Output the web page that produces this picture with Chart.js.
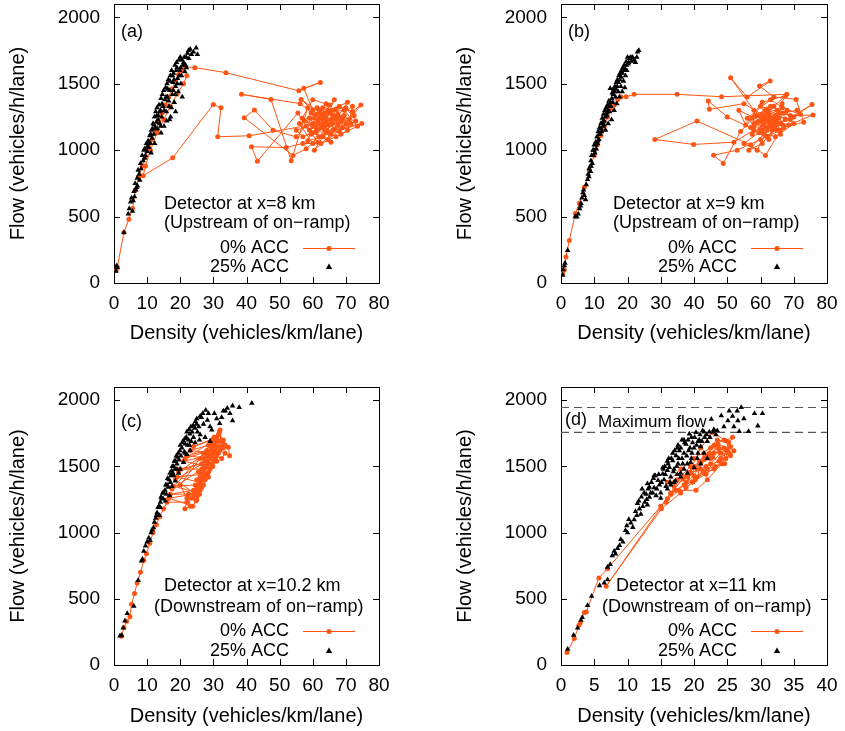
<!DOCTYPE html>
<html>
<head>
<meta charset="utf-8">
<script src="https://cdn.jsdelivr.net/npm/chart.js@4/dist/chart.umd.min.js"></script>
<style>
  body { margin: 0; background: #fff; width: 845px; height: 731px; position: relative; overflow: hidden; }
  canvas { position: absolute; }
</style>
</head>
<body>
<canvas id="pa" width="398" height="348" style="left:0;top:0"></canvas>
<canvas id="pb" width="398" height="348" style="left:447px;top:0"></canvas>
<canvas id="pc" width="398" height="348" style="left:0;top:383px"></canvas>
<canvas id="pd" width="398" height="348" style="left:447px;top:383px"></canvas>
<script>
// ---- data (density veh/km/lane, flow veh/h/lane) ----
const flowTicks = [0, 500, 1000, 1500, 2000];
const densityTicks80 = [0, 10, 20, 30, 40, 50, 60, 70, 80];
const densityTicks40 = [0, 5, 10, 15, 20, 25, 30, 35, 40];
const seriesNames = ['0% ACC', '25% ACC'];
const maxFlowLevels = [1945, 1757];

// (a) detector at x=8 km
const a0 = [[0.6,95],[1,120],[3,380],[4.5,480],[5.6,560],[6.5,700],[7.5,800],[8.5,880],[9.5,950],[10.5,1020],[11.5,1080],[12.5,1150],[13.5,1210],[14.5,1280],[15.5,1340],[16.5,1400],[17.5,1460],[18.5,1520],[19.5,1570],[20.5,1600],[21.4,1628],[24.4,1621],[33.8,1583],[55.8,1447],[62.3,1510],[57.3,1465],[60,1300],[56.5,1382],[64,1250],[68,1330],[72,1290],[74.5,1339],[70,1200],[66,1150],[74.8,1201],[62,1100],[58,1180],[65,1280],[60,1050],[56,1200],[70.5,1360],[67,1230],[61,1140],[63,1320],[59,1240],[64.5,1080],[69,1170],[72.5,1260],[57,1100],[55,1150],[61.5,1210],[66.5,1380],[63,1170],[58.5,1320],[53.5,920],[47.4,1382],[38.5,1420],[56.2,1350],[62,1240],[65.5,1120],[60.5,1000],[67.5,1270],[71,1230],[64,1190],[59.5,1120],[55.5,1280],[43.3,917],[41.5,1025],[52,1020],[57,1050],[62.5,1050],[68.5,1120],[73.5,1180],[69.5,1300],[63.5,1280],[60,1180],[66,1200],[58,1010],[54,960],[39.3,1244],[42.4,1302],[48,1150],[55,1100],[61,1270],[65,1340],[60,1380],[56.8,1240],[63.7,1140],[61.3,1320],[66,1260],[68.5,1210],[64.5,1300],[62.5,1180],[67,1100],[70.5,1150],[72,1330],[68,1250],[63.5,1220],[59,1150],[61.5,1060],[65.5,1230],[69.5,1260],[71.5,1200],[66.5,1160],[62,1300],[60.5,1240],[64,1350],[67.5,1190],[63,1100],[58.5,1070],[60,1200],[65,1190],[68,1140],[73,1220],[70,1320],[66,1300],[62.5,1270],[59.5,1280],[57.5,1220],[61,1170],[64.5,1140],[67,1310],[69,1230],[63,1240],[65.5,1060],[60,1130],[62,1200],[66.5,1250],[64,1210],[40.8,1108],[31.3,1101],[32.3,1319],[30,1344],[17.7,942],[8.8,807],[9.5,880],[11,1000],[13,1130],[15,1230],[17,1330],[19,1420],[21,1500],[22,1560]];
const a25 = [[0.6,90],[0.8,130],[1,115],[3,380],[4.3,520],[4.6,560],[5,610],[5.3,640],[5.6,540],[5.8,620],[6,690],[6.2,650],[6.4,750],[6.6,700],[6.8,720],[7,790],[7.1,730],[7.3,850],[7.6,820],[7.8,774],[8,900],[8.2,860],[8.5,960],[8.8,920],[9,1000],[9.2,940],[9.3,1010],[9.5,960],[9.8,1050],[10,990],[10.1,1030],[10.3,1070],[10.5,1020],[10.7,1060],[10.8,1110],[11,1050],[11.1,1120],[11.3,1150],[11.5,1090],[11.6,1160],[11.8,1200],[12,1120],[12.1,1190],[12.2,1250],[12.3,1050],[12.4,1170],[12.6,1290],[12.8,1210],[12.9,1260],[13,1320],[13.1,1160],[13.3,1230],[13.4,1260],[13.6,1340],[13.8,1200],[13.9,1290],[14,1300],[14.1,1180],[14.2,1390],[14.4,1250],[14.5,1350],[14.6,1420],[14.8,1330],[15,1450],[15.1,1180],[15.2,1300],[15.4,1380],[15.6,1470],[15.7,1400],[15.8,1290],[15.9,1220],[16,1500],[16.1,1400],[16.2,1460],[16.4,1530],[16.5,1370],[16.6,1330],[16.8,1450],[16.9,1520],[17,1560],[17.1,1250],[17.3,1320],[17.4,1600],[17.6,1420],[17.7,1560],[17.8,1510],[17.9,1450],[18,1580],[18.1,1530],[18.2,1360],[18.4,1640],[18.5,1420],[18.6,1480],[18.8,1600],[18.9,1660],[19,1620],[19.1,1500],[19.2,1540],[19.4,1440],[19.6,1680],[19.7,1560],[19.8,1600],[20,1700],[20.1,1620],[20.2,1500],[20.4,1560],[20.5,1680],[20.6,1400],[20.8,1640],[21,1660],[21.2,1700],[21.4,1590],[21.8,1700],[21.9,1620],[22.2,1730],[22.5,1750],[22.6,1690],[23,1760],[23.4,1720],[24,1740],[24.8,1770],[25.2,1720],[21.6,1640],[11.2,980],[14.2,1130],[16.8,1230],[18.6,1290]];

// (b) detector at x=9 km
const b0 = [[0.5,70],[1,100],[1.5,196],[2.5,320],[4.3,523],[5.5,600],[7,720],[8.5,850],[10,960],[11,1040],[12,1110],[13,1180],[14,1250],[15,1300],[16,1340],[17,1380],[18,1400],[19.6,1402],[22,1420],[34.9,1420],[48.3,1402],[67.9,1420],[62,1280],[58,1200],[65,1150],[60,1330],[70,1250],[75.5,1344],[66,1200],[62,1100],[56,1240],[63,1380],[68,1300],[61,1200],[57.5,1120],[64,1240],[59,1000],[55,1050],[60.5,1150],[66.5,1320],[72,1270],[63.5,1180],[58,1300],[51,1545],[56,1400],[62.9,1520],[59.7,1483],[64,1400],[70.7,1382],[73,1210],[67,1170],[61,1260],[55,1350],[44.6,1307],[44.3,1370],[50,1250],[57,1170],[62.5,1230],[68.5,1190],[75.8,1264],[69,1260],[63,1330],[58.5,1260],[54,1140],[48.8,900],[45.9,962],[53,1000],[60,1080],[66,1150],[61.5,960],[57,1040],[40.9,1219],[28.2,1080],[39.9,1043],[52,1060],[58,1150],[64.5,1100],[70,1200],[65,1300],[59,1210],[62,1150],[67.5,1410],[60.5,1360],[55.5,1190],[53.5,1300],[60,1220],[63,1250],[66,1280],[61.5,1170],[64.5,1190],[67.5,1230],[62,1310],[59.5,1130],[62.5,1080],[65.5,1240],[63,1210],[60.5,1270],[58,1180],[64,1330],[67,1180],[61,1230],[63.5,1150],[66.5,1350],[69,1230],[62.5,1280],[60,1160],[57.5,1240],[64.5,1260],[66,1120],[61.5,1300],[63,1190],[59,1260],[65,1210],[62,1240],[64,1160],[60.5,1050],[56.5,1000],[61,1120],[67,1280],[71,1300]];
const b25 = [[0.5,60],[0.7,100],[1,130],[1.2,150],[2,246],[4.3,500],[4.8,497],[5.2,520],[5.6,560],[5.9,580],[6,600],[6.3,640],[6.6,680],[6.8,700],[7,660],[7.4,628],[7.6,740],[8,780],[8.2,820],[8.4,800],[8.5,860],[8.8,880],[8.9,840],[9,920],[9.1,880],[9.2,960],[9.4,900],[9.6,1000],[9.8,960],[9.9,1000],[10,1040],[10.2,980],[10.4,1060],[10.5,1040],[10.6,1010],[10.8,1100],[11,1050],[11.1,1070],[11.2,1140],[11.4,1080],[11.5,1120],[11.6,1170],[11.8,1120],[12,1200],[12.1,1160],[12.2,1140],[12.4,1240],[12.5,1210],[12.6,1180],[12.8,1270],[12.9,1190],[13,1220],[13.2,1300],[13.3,1250],[13.4,1150],[13.6,1320],[13.7,1280],[13.8,1260],[14,1340],[14.1,1300],[14.2,1200],[14.4,1370],[14.5,1330],[14.6,1290],[14.8,1465],[14.9,1360],[15,1330],[15.2,1230],[15.3,1390],[15.4,1430],[15.6,1360],[15.7,1420],[15.8,1460],[16,1300],[16.1,1440],[16.2,1480],[16.4,1400],[16.5,1460],[16.6,1510],[16.8,1350],[16.9,1480],[17,1530],[17.2,1440],[17.3,1510],[17.4,1560],[17.6,1400],[17.7,1530],[17.8,1580],[18,1480],[18.1,1550],[18.2,1600],[18.4,1440],[18.5,1580],[18.6,1620],[18.8,1520],[18.9,1600],[19,1640],[19.2,1470],[19.3,1610],[19.4,1560],[19.6,1666],[19.7,1640],[19.8,1600],[20,1700],[20.2,1650],[20.4,1660],[20.6,1690],[21,1700],[21.2,1670],[21.5,1700],[22,1680],[22.4,1660],[22.8,1700],[23,1740],[23.4,1750]];

// (c) detector at x=10.2 km
const c0 = [[2.3,218],[3,284],[3.8,330],[4.8,364],[5.3,459],[6.2,540],[7,620],[8,700],[9,790],[9.8,841],[10.8,920],[11.8,1000],[12.8,1060],[13.8,1120],[15,1180],[16,1230],[22,1230],[21.4,1180],[23,1200],[22.5,1290],[17,1290],[24,1320],[23.5,1260],[25,1250],[24.5,1360],[18,1350],[25.5,1300],[25,1400],[26,1380],[19,1420],[26.5,1440],[25.5,1460],[27,1480],[20,1480],[26.5,1520],[27.5,1540],[28,1500],[21,1540],[28.5,1580],[27,1600],[28,1620],[22,1580],[29,1560],[29.5,1640],[30,1600],[23,1620],[28.5,1660],[30.5,1680],[29.5,1700],[24,1650],[31,1720],[32,1775],[32.2,1694],[31.5,1650],[30.5,1620],[33,1640],[34.5,1644],[34.9,1581],[33.5,1600],[32.5,1560],[31,1580],[30,1540],[29,1480],[28,1440],[27.5,1400],[26.5,1340],[25.8,1290],[24.8,1240],[23.8,1200],[16.5,1260],[24,1290],[26,1320],[27,1360],[28.5,1420],[29.5,1520],[30.5,1560],[31.5,1600],[32.5,1650],[33,1700],[31.5,1740],[30,1660],[27.5,1500],[26,1420],[25,1340],[22,1260],[20,1360],[26,1560],[28,1580],[29,1600],[24.5,1300],[25.5,1350],[26.5,1400],[27.5,1450],[28.5,1520],[29.5,1580],[30.5,1640],[31.5,1690],[30.8,1700],[29.8,1620],[28.8,1560],[27.8,1500],[26.8,1440],[25.8,1380],[24.8,1320],[23.8,1270],[27.2,1560],[28.2,1600],[29.2,1660],[30.2,1720],[31.8,1760],[32.8,1680],[33.6,1660],[32,1620],[31,1540],[29.8,1500],[28.6,1460],[27.4,1420],[26.2,1360],[25.2,1280],[18.5,1400],[28,1540],[19.5,1460],[29,1620],[21.5,1560],[30.5,1700],[17.5,1330],[26.5,1480]];
const c25 = [[1.8,220],[2.3,226],[2.8,280],[3.3,334],[4,390],[6,444],[7.3,640],[8.3,786],[8.6,800],[9,860],[9.5,900],[10,930],[10.5,960],[10.9,941],[11.2,1000],[11.5,1020],[11.9,1037],[12.2,1080],[12.6,1110],[12.8,1130],[13,1150],[13.3,1190],[13.7,1130],[13.6,1200],[14,1230],[14,1190],[14.2,1270],[14.4,1260],[14.7,1300],[14.9,1255],[15,1300],[15.4,1320],[15.5,1240],[15.6,1360],[15.8,1290],[16,1360],[16.2,1410],[16.4,1343],[16.6,1400],[16.9,1450],[17,1380],[17.2,1430],[17.4,1468],[17.6,1500],[17.8,1450],[18,1500],[18,1430],[18.2,1540],[18.4,1480],[18.6,1540],[18.8,1580],[19,1520],[19,1480],[19.2,1570],[19.4,1600],[19.6,1550],[19.9,1619],[20,1660],[20.2,1580],[20.5,1640],[20.7,1680],[20.9,1694],[21.2,1610],[21.4,1710],[21.5,1670],[21.5,1600],[21.8,1720],[22,1760],[22.2,1660],[22.5,1700],[22.7,1780],[22.8,1660],[22.9,1745],[23.2,1800],[23.3,1690],[23.6,1760],[23.9,1810],[24,1720],[24.4,1790],[24.6,1840],[24.9,1820],[25,1860],[25.2,1760],[25.6,1800],[26,1740],[26,1880],[26.4,1870],[26.8,1900],[27,1820],[27.7,1925],[28.2,1850],[28.5,1900],[29,1800],[29.5,1775],[30.3,1900],[31,1860],[31.9,1825],[32.5,1870],[33,1920],[33.6,1920],[34.2,1940],[35,1900],[35.8,1958],[35.8,1845],[37.8,1945],[41.6,1978],[18.5,1390],[17.5,1350],[16.8,1280],[19.5,1450],[21,1530],[22,1590],[23,1620],[24.5,1680],[25.8,1700],[27.5,1720],[29,1690],[20,1480]];

// (d) detector at x=11 km
const d0 = [[0.9,95],[2,200],[2.7,301],[2.9,319],[3.5,397],[3.8,400],[5.7,658],[7,728],[15,1200],[16,1255],[17.8,1318],[20.3,1320],[22,1400],[24.2,1521],[22,1480],[18.5,1360],[16.5,1300],[6.8,595],[15.1,1180],[18,1300],[21.5,1460],[24,1560],[25.8,1720],[24.8,1694],[22.8,1757],[21,1640],[19.3,1455],[18.3,1405],[20,1500],[22.5,1560],[23.6,1669],[26,1619],[25.5,1580],[23.8,1610],[22,1580],[20.5,1480],[19,1420],[17,1350],[16.5,1290],[18.5,1420],[21,1530],[23,1600],[24.5,1640],[22.5,1640],[20,1560],[18,1480],[16,1380],[17.5,1400],[19.5,1500],[22.8,1569],[24.2,1521],[25.2,1680],[23.5,1700],[21.5,1600],[20.5,1420],[23,1480],[24.8,1560],[25,1620],[23.8,1540],[21.8,1500],[19.8,1380],[18.8,1340],[19.5,1450],[21,1480],[22.5,1520],[24,1600],[25.5,1650],[24.5,1700],[23,1660],[21.5,1560],[20,1430],[18.8,1380],[20.8,1540],[22.3,1600],[23.7,1640],[25.3,1600],[24.6,1520],[23.2,1500],[21.8,1440],[20.2,1400],[17.2,1320],[15.8,1230]];
const d25 = [[1,120],[1.9,226],[2.5,280],[3,339],[3.2,360],[4,450],[4.6,520],[5.8,600],[6.5,620],[7,645],[7,740],[7.4,760],[7.7,826],[8,860],[8.2,840],[8.5,880],[8.8,904],[9,949],[9.3,930],[9.7,1016],[9.9,1053],[10,1000],[10.2,1100],[10.5,1073],[10.8,1040],[11,1098],[11.2,1160],[11.4,1130],[11.5,1220],[11.7,1240],[11.8,1180],[12,1140],[12.1,1270],[12.2,1330],[12.3,1198],[12.5,1300],[12.6,1230],[12.8,1290],[12.9,1250],[13,1210],[13,1370],[13.1,1330],[13.3,1268],[13.3,1343],[13.5,1300],[13.6,1380],[13.8,1300],[13.9,1410],[14,1340],[14,1430],[14.2,1430],[14.3,1280],[14.4,1330],[14.6,1394],[14.7,1440],[14.8,1360],[15,1300],[15,1260],[15.1,1380],[15.3,1443],[15.3,1490],[15.4,1480],[15.5,1400],[15.6,1500],[15.7,1440],[15.8,1350],[16,1470],[16,1540],[16,1330],[16.1,1520],[16.2,1560],[16.3,1493],[16.4,1380],[16.5,1420],[16.5,1360],[16.6,1560],[16.8,1544],[16.8,1600],[16.9,1460],[17,1480],[17,1380],[17.1,1620],[17.2,1390],[17.3,1581],[17.4,1500],[17.5,1640],[17.5,1440],[17.6,1520],[17.6,1660],[17.7,1560],[17.8,1619],[18,1450],[18,1420],[18,1640],[18.2,1560],[18.2,1700],[18.3,1520],[18.5,1600],[18.5,1480],[18.5,1700],[18.6,1680],[18.8,1669],[18.9,1580],[19,1520],[19,1450],[19.1,1700],[19.2,1620],[19.3,1745],[19.4,1640],[19.5,1530],[19.6,1560],[19.6,1720],[19.7,1600],[19.8,1680],[20,1640],[20,1490],[20.1,1720],[20.3,1757],[20.4,1660],[20.5,1560],[20.6,1600],[20.6,1690],[20.8,1700],[20.9,1740],[21,1650],[21,1520],[21.2,1690],[21.3,1770],[21.5,1760],[21.5,1600],[21.6,1720],[21.9,1740],[22,1690],[22,1560],[22.3,1760],[22.4,1720],[22.6,1857],[22.9,1760],[23,1780],[23.3,1740],[23.5,1770],[24.1,1883],[24.5,1800],[25.1,1845],[25.3,1920],[25.8,1880],[26,1800],[26.5,1920],[26.6,1845],[26.8,1765],[27.1,1945],[27.5,1860],[28.2,1765],[29.1,1900],[29.6,1807],[30.3,1900]];

// ---- styling ----
const FONT = '"Liberation Sans", Arial, Helvetica, sans-serif';
const ORANGE = 'rgb(255,85,20)';
const pts = arr => arr.map(p => ({x: p[0], y: p[1]}));

// border with inward ticks on all four sides, plus panel notes and key
const frame = {
  id: 'frame',
  beforeDatasetsDraw(chart) {
    const {ctx, chartArea: a, scales: {x, y}} = chart;
    ctx.save();
    ctx.strokeStyle = '#000';
    ctx.lineWidth = 1;
    ctx.beginPath();
    x.ticks.forEach(t => {
      const p = Math.round(x.getPixelForValue(t.value)) + 0.5;
      ctx.moveTo(p, a.bottom); ctx.lineTo(p, a.bottom - 6);
      ctx.moveTo(p, a.top); ctx.lineTo(p, a.top + 6);
    });
    y.ticks.forEach(t => {
      const p = Math.round(y.getPixelForValue(t.value)) + 0.5;
      ctx.moveTo(a.left, p); ctx.lineTo(a.left + 6, p);
      ctx.moveTo(a.right, p); ctx.lineTo(a.right - 6, p);
    });
    ctx.stroke();
    ctx.strokeRect(Math.round(a.left) + 0.5, Math.round(a.top) + 0.5,
      Math.round(a.right - a.left), Math.round(a.bottom - a.top));
    ctx.restore();
  },
  afterDatasetsDraw(chart, args, o) {
    const ctx = chart.ctx;
    ctx.save();
    ctx.fillStyle = '#000';
    ctx.textBaseline = 'middle';
    ctx.textAlign = 'left';
    ctx.font = '18px ' + FONT;
    ctx.fillText(o.tag[0], o.tag[1], o.tag[2]);
    if (o.extra) {
      ctx.font = '17px ' + FONT;
      ctx.fillText(o.extra[0], o.extra[1], o.extra[2]);
    }
    ctx.font = '18px ' + FONT;
    o.title.forEach(l => ctx.fillText(l[0], l[1], l[2]));
    ctx.textAlign = 'right';
    ctx.fillText(seriesNames[0], o.keyRight, o.rows[0]);
    ctx.fillText(seriesNames[1], o.keyRight, o.rows[1]);
    // key samples
    const mid = (o.sample[0] + o.sample[1]) / 2;
    ctx.strokeStyle = ORANGE;
    ctx.lineWidth = 1;
    ctx.beginPath();
    ctx.moveTo(o.sample[0], o.rows[0] + 0.5);
    ctx.lineTo(o.sample[1], o.rows[0] + 0.5);
    ctx.stroke();
    ctx.fillStyle = ORANGE;
    ctx.beginPath();
    ctx.arc(mid, o.rows[0] + 0.5, 2.5, 0, Math.PI * 2);
    ctx.fill();
    ctx.fillStyle = '#000';
    ctx.beginPath();
    ctx.moveTo(mid, o.rows[1] - 3.5);
    ctx.lineTo(mid + 3.2, o.rows[1] + 2);
    ctx.lineTo(mid - 3.2, o.rows[1] + 2);
    ctx.closePath();
    ctx.fill();
    ctx.restore();
  }
};

function panel(id, s0, s25, cfg) {
  const datasets = [
    {label: seriesNames[1], data: pts(s25), order: 0, showLine: false,
     pointStyle: 'triangle', pointRadius: 3.2, pointBackgroundColor: '#000', pointBorderWidth: 0},
    {label: seriesNames[0], data: pts(s0), order: 1, showLine: true,
     borderColor: ORANGE, borderWidth: 1, pointRadius: 2.5, pointBackgroundColor: ORANGE, pointBorderWidth: 0}
  ];
  if (cfg.maxFlow) {
    maxFlowLevels.forEach(v => datasets.push({
      label: 'Maximum flow', data: [{x: 0, y: v}, {x: cfg.xMax, y: v}], order: 2, showLine: true,
      borderColor: '#555', borderWidth: 1.2, borderDash: [8, 5], pointRadius: 0
    }));
  }
  new Chart(document.getElementById(id), {
    type: 'scatter',
    data: {datasets},
    options: {
      responsive: false,
      animation: false,
      events: [],
      layout: {padding: {top: 4, right: cfg.padRight, bottom: 0, left: 0}},
      plugins: {legend: {display: false}, tooltip: {enabled: false}, frame: cfg.notes},
      scales: {
        x: {
          type: 'linear', min: 0, max: cfg.xMax,
          afterBuildTicks: s => { s.ticks = cfg.xTicks.map(v => ({value: v})); },
          afterFit: s => { s.height = cfg.xH; s.paddingLeft = 0; s.paddingRight = 0; },
          grid: {display: false, drawTicks: false}, border: {display: false},
          ticks: {padding: 9, color: '#000', font: {size: 19, family: FONT}, maxRotation: 0, autoSkip: false,
                  callback: v => String(v)},
          title: {display: true, text: 'Density (vehicles/km/lane)', color: '#000',
                  font: {size: 20, family: FONT}, padding: {top: 0, bottom: 3}}
        },
        y: {
          type: 'linear', min: 0, max: 2100,
          afterBuildTicks: s => { s.ticks = flowTicks.map(v => ({value: v})); },
          afterFit: s => { s.width = 114; s.paddingTop = 0; s.paddingBottom = 0; },
          grid: {display: false, drawTicks: false}, border: {display: false},
          ticks: {padding: 14, color: '#000', font: {size: 19, family: FONT}, autoSkip: false,
                  callback: v => String(v)},
          title: {display: true, text: 'Flow (vehicles/h/lane)', color: '#000',
                  font: {size: 20, family: FONT}, padding: {top: 6, bottom: 0}}
        }
      }
    },
    plugins: [frame]
  });
}

panel('pa', a0, a25, {
  xMax: 80, xTicks: densityTicks80, xH: 65, padRight: 19,
  notes: {tag: ['(a)', 121, 32],
          title: [['Detector at x=8 km', 164, 204], ['(Upstream of on\u2212ramp)', 164, 223]],
          keyRight: 289, rows: [248, 267], sample: [303, 355]}
});
panel('pb', b0, b25, {
  xMax: 80, xTicks: densityTicks80, xH: 65, padRight: 18,
  notes: {tag: ['(b)', 121, 32],
          title: [['Detector at x=9 km', 166, 204], ['(Upstream of on\u2212ramp)', 166, 223]],
          keyRight: 290, rows: [248, 267], sample: [304, 356]}
});
panel('pc', c0, c25, {
  xMax: 80, xTicks: densityTicks80, xH: 66, padRight: 19,
  notes: {tag: ['(c)', 121, 39],
          title: [['Detector at x=10.2 km', 164, 203], ['(Downstream of on\u2212ramp)', 154, 224]],
          keyRight: 289, rows: [248, 268], sample: [303, 355]}
});
panel('pd', d0, d25, {
  xMax: 40, xTicks: densityTicks40, xH: 66, padRight: 18, maxFlow: true,
  notes: {tag: ['(d)', 118, 37], extra: ['Maximum flow', 151, 39],
          title: [['Detector at x=11 km', 169, 203], ['(Downstream of on\u2212ramp)', 155, 224]],
          keyRight: 290, rows: [248, 268], sample: [304, 356]}
});
</script>
</body>
</html>
